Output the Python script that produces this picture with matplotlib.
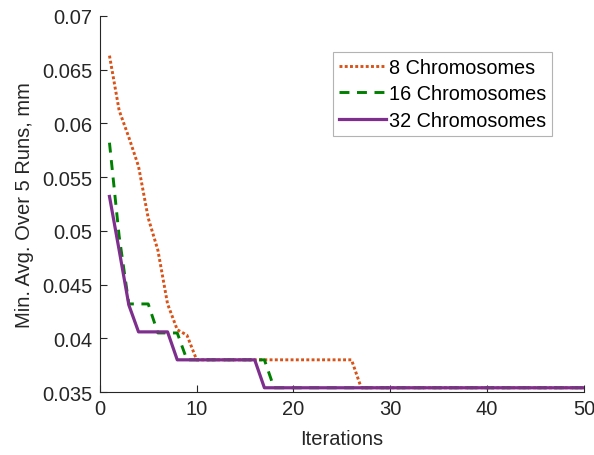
import matplotlib
matplotlib.use("Agg")
import matplotlib.pyplot as plt

# best (minimum) average value over 5 runs, per iteration, for each population size
iterations = list(range(1, 51))
chrom8 = [0.0663, 0.0612, 0.0587, 0.0560, 0.0512, 0.0482, 0.0432, 0.0408, 0.0403] \
    + [0.0380] * 17 + [0.0354] * 24
chrom16 = [0.0582, 0.0495, 0.0432, 0.0432, 0.0432, 0.0405, 0.0405, 0.0405] \
    + [0.0380] * 9 + [0.0354] * 33
chrom32 = [0.0532, 0.0482, 0.0431, 0.0406, 0.0406, 0.0406, 0.0406] \
    + [0.0380] * 9 + [0.0354] * 34
labels = ['8 Chromosomes', '16 Chromosomes', '32 Chromosomes']

plt.rcParams['font.family'] = ['Liberation Sans', 'DejaVu Sans']
dark = '#262626'

fig = plt.figure(figsize=(5.94, 4.56), dpi=100)
ax = fig.add_axes([0.168, 0.138, 0.815, 0.825])

ax.plot(iterations, chrom8, color='#D95319', lw=2.1, linestyle=(0, (1, 0.8)),
        dash_capstyle='butt', label=labels[0])
ax.plot(iterations, chrom16, color='#008000', lw=2.1, linestyle=(0, (3.4, 2.6)),
        label=labels[1])
ax.plot(iterations, chrom32, color='#7E2F8E', lw=2.3, label=labels[2])

ax.set_xlim(0, 50)
ax.set_ylim(0.035, 0.07)
ax.set_xticks([0, 10, 20, 30, 40, 50])
ax.set_yticks([0.035, 0.04, 0.045, 0.05, 0.055, 0.06, 0.065, 0.07])
ax.set_yticklabels(['0.035', '0.04', '0.045', '0.05', '0.055', '0.06', '0.065', '0.07'])
ax.tick_params(direction='in', length=5, width=0.8, colors=dark, labelsize=14.5,
               labelcolor=dark)
ax.tick_params(axis='y', pad=5.5)
ax.tick_params(axis='x', pad=5)
for side in ['top', 'right']:
    ax.spines[side].set_visible(False)
for side in ['left', 'bottom']:
    ax.spines[side].set_color(dark)
    ax.spines[side].set_linewidth(0.8)

ax.set_xlabel('Iterations', fontsize=14.5, color=dark, labelpad=8)
ax.set_ylabel('Min. Avg. Over 5 Runs, mm', fontsize=14.5, color=dark, labelpad=6)

leg = ax.legend(loc='upper right', bbox_to_anchor=(0.935, 0.905), fontsize=14.3,
                frameon=True, fancybox=False, edgecolor='#a0a0a0',
                handlelength=2.4, handletextpad=0.15, labelspacing=0.38,
                borderpad=0.3, borderaxespad=0)
leg.get_frame().set_linewidth(0.8)

fig.savefig('out.png', dpi=100)
